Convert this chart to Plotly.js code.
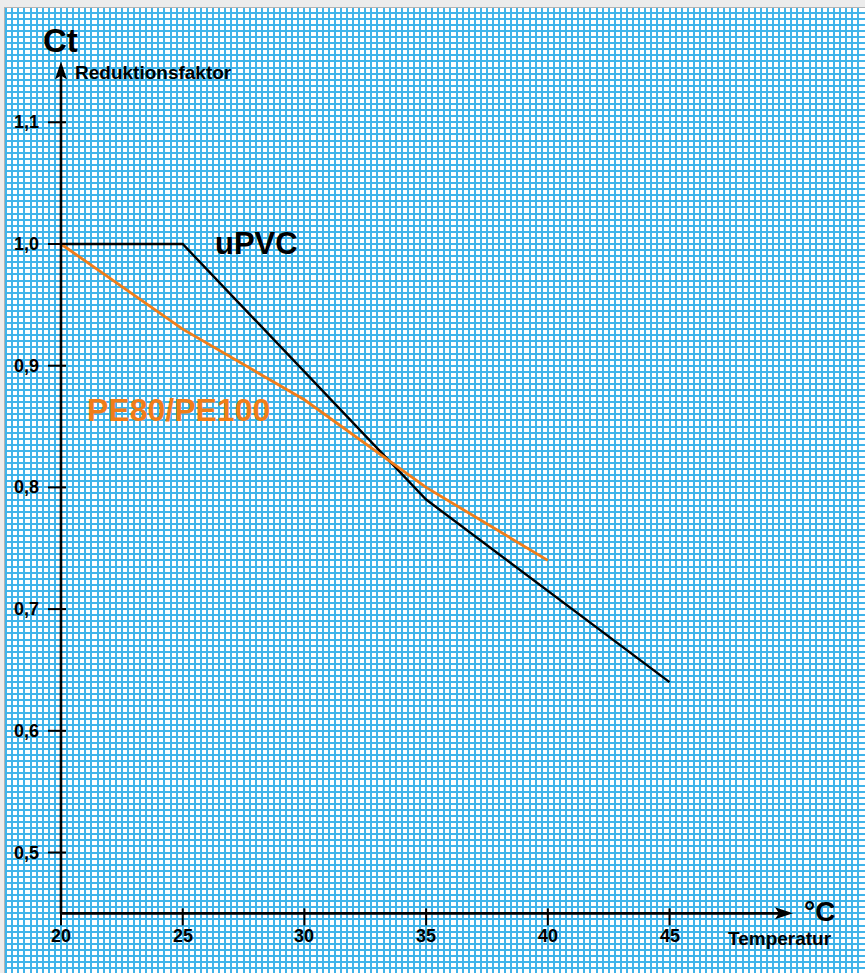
<!DOCTYPE html>
<html>
<head>
<meta charset="utf-8">
<script src="https://cdn.plot.ly/plotly-3.0.1.min.js"></script>
<style>html,body{margin:0;padding:0;background:#ececec;}#chart{width:865px;height:973px;}</style>
</head>
<body>
<div id="chart"></div>
<script>
// Data
const temperature = [20, 25, 30, 35, 40, 45];
const upvcTemp = [20, 25, 35, 45];
const upvcCt = [1.0, 1.0, 0.79, 0.64];
const peTemp = [20, 25, 30, 35, 40];
const peCt = [1.0, 0.93, 0.872, 0.80, 0.74];
const xTickLabels = ['20', '25', '30', '35', '40', '45'];
const yTickVals = [0.5, 0.6, 0.7, 0.8, 0.9, 1.0, 1.1];
const yTickLabels = ['0,5', '0,6', '0,7', '0,8', '0,9', '1,0', '1,1'];

const FONT = 'Liberation Sans, Arial, Helvetica, sans-serif';
const ORANGE = '#f07d19';
const X0 = 20, Y0 = 0.45;
const xTip = 50.07, yTip = 1.15;

const traces = [
  {x: upvcTemp, y: upvcCt, mode: 'lines', line: {color: '#000', width: 2.4}, hoverinfo: 'skip'},
  {x: peTemp, y: peCt, mode: 'lines', line: {color: ORANGE, width: 2.8}, hoverinfo: 'skip'}
];

const shapes = [];
// axis lines
shapes.push({type: 'line', xref: 'x', yref: 'y', x0: X0, x1: xTip - 0.5, y0: Y0, y1: Y0, line: {color: '#000', width: 2.6}});
shapes.push({type: 'line', xref: 'x', yref: 'y', x0: X0, x1: X0, y0: Y0, y1: yTip - 0.01, line: {color: '#000', width: 2.6}});
// arrow heads
shapes.push({type: 'path', xref: 'x', yref: 'y', xsizemode: 'pixel', ysizemode: 'pixel', xanchor: xTip, yanchor: Y0,
  path: 'M0,0 L-18,-6 L-14,0 L-18,6 Z', fillcolor: '#000', line: {width: 0}});
shapes.push({type: 'path', xref: 'x', yref: 'y', xsizemode: 'pixel', ysizemode: 'pixel', xanchor: X0, yanchor: yTip,
  path: 'M0,0 L-6,-18 L0,-14 L6,-18 Z', fillcolor: '#000', line: {width: 0}});
// x ticks
temperature.forEach(v => shapes.push({type: 'line', xref: 'x', yref: 'y', ysizemode: 'pixel', yanchor: Y0,
  x0: v, x1: v, y0: -12, y1: 5, line: {color: '#000', width: 2}}));
// y ticks
yTickVals.forEach(v => shapes.push({type: 'line', xref: 'x', yref: 'y', xsizemode: 'pixel', xanchor: X0,
  x0: -13, x1: 5, y0: v, y1: v, line: {color: '#000', width: 2}}));

const annotations = [];
temperature.forEach((v, i) => annotations.push({x: v, y: Y0, xref: 'x', yref: 'y', text: '<b>' + xTickLabels[i] + '</b>',
  showarrow: false, xanchor: 'center', yanchor: 'middle', yshift: -23, font: {family: FONT, size: 18, color: '#000'}}));
yTickVals.forEach((v, i) => annotations.push({x: X0, y: v, xref: 'x', yref: 'y', text: '<b>' + yTickLabels[i] + '</b>',
  showarrow: false, xanchor: 'right', yanchor: 'middle', xshift: -20, font: {family: FONT, size: 18, color: '#000'}}));
annotations.push({x: X0, y: 1.1676, xref: 'x', yref: 'y', text: '<b>Ct</b>', showarrow: false, xanchor: 'left', yanchor: 'middle',
  xshift: -20, font: {family: FONT, size: 33, color: '#000'}});
annotations.push({x: X0, y: 1.1413, xref: 'x', yref: 'y', text: '<b>Reduktionsfaktor</b>', showarrow: false, xanchor: 'left', yanchor: 'middle',
  xshift: 12, font: {family: FONT, size: 19, color: '#000'}});
annotations.push({x: xTip, y: Y0, xref: 'x', yref: 'y', text: '<b>°C</b>', showarrow: false, xanchor: 'left', yanchor: 'middle',
  xshift: 9, yshift: 1.5, font: {family: FONT, size: 28, color: '#000'}});
annotations.push({x: xTip, y: Y0, xref: 'x', yref: 'y', text: '<b>Temperatur</b>', showarrow: false, xanchor: 'center', yanchor: 'middle',
  xshift: -13, yshift: -25, font: {family: FONT, size: 19, color: '#000'}});
annotations.push({x: 26.25, y: 1.0, xref: 'x', yref: 'y', text: '<b>uPVC</b>', showarrow: false, xanchor: 'left', yanchor: 'middle',
  font: {family: FONT, size: 31, color: '#000'}});
annotations.push({x: 20.98, y: 0.8636, xref: 'x', yref: 'y', text: '<b>PE80/PE100</b>', showarrow: false, xanchor: 'left', yanchor: 'middle',
  font: {family: FONT, size: 32, color: ORANGE}});

const gridColor = '#40b4ea';
const layout = {
  width: 865, height: 973,
  margin: {l: 5, r: 0, t: 8, b: 0, pad: 0},
  paper_bgcolor: '#ececec',
  plot_bgcolor: '#ffffff',
  showlegend: false,
  xaxis: {range: [17.70, 53.03], tickmode: 'linear', tick0: 20, dtick: 0.25, showgrid: true, gridcolor: gridColor, gridwidth: 2,
    showticklabels: false, ticks: '', zeroline: false, showline: true, linecolor: '#b3b3b3', linewidth: 1, side: 'top', fixedrange: true},
  yaxis: {range: [0.401, 1.1939], tickmode: 'linear', tick0: 0.45, dtick: 0.005, showgrid: true, gridcolor: gridColor, gridwidth: 2,
    showticklabels: false, ticks: '', zeroline: false, showline: true, linecolor: '#b3b3b3', linewidth: 1, fixedrange: true},
  shapes: shapes,
  annotations: annotations
};
Plotly.newPlot('chart', traces, layout, {displayModeBar: false, staticPlot: true});
</script>
</body>
</html>
